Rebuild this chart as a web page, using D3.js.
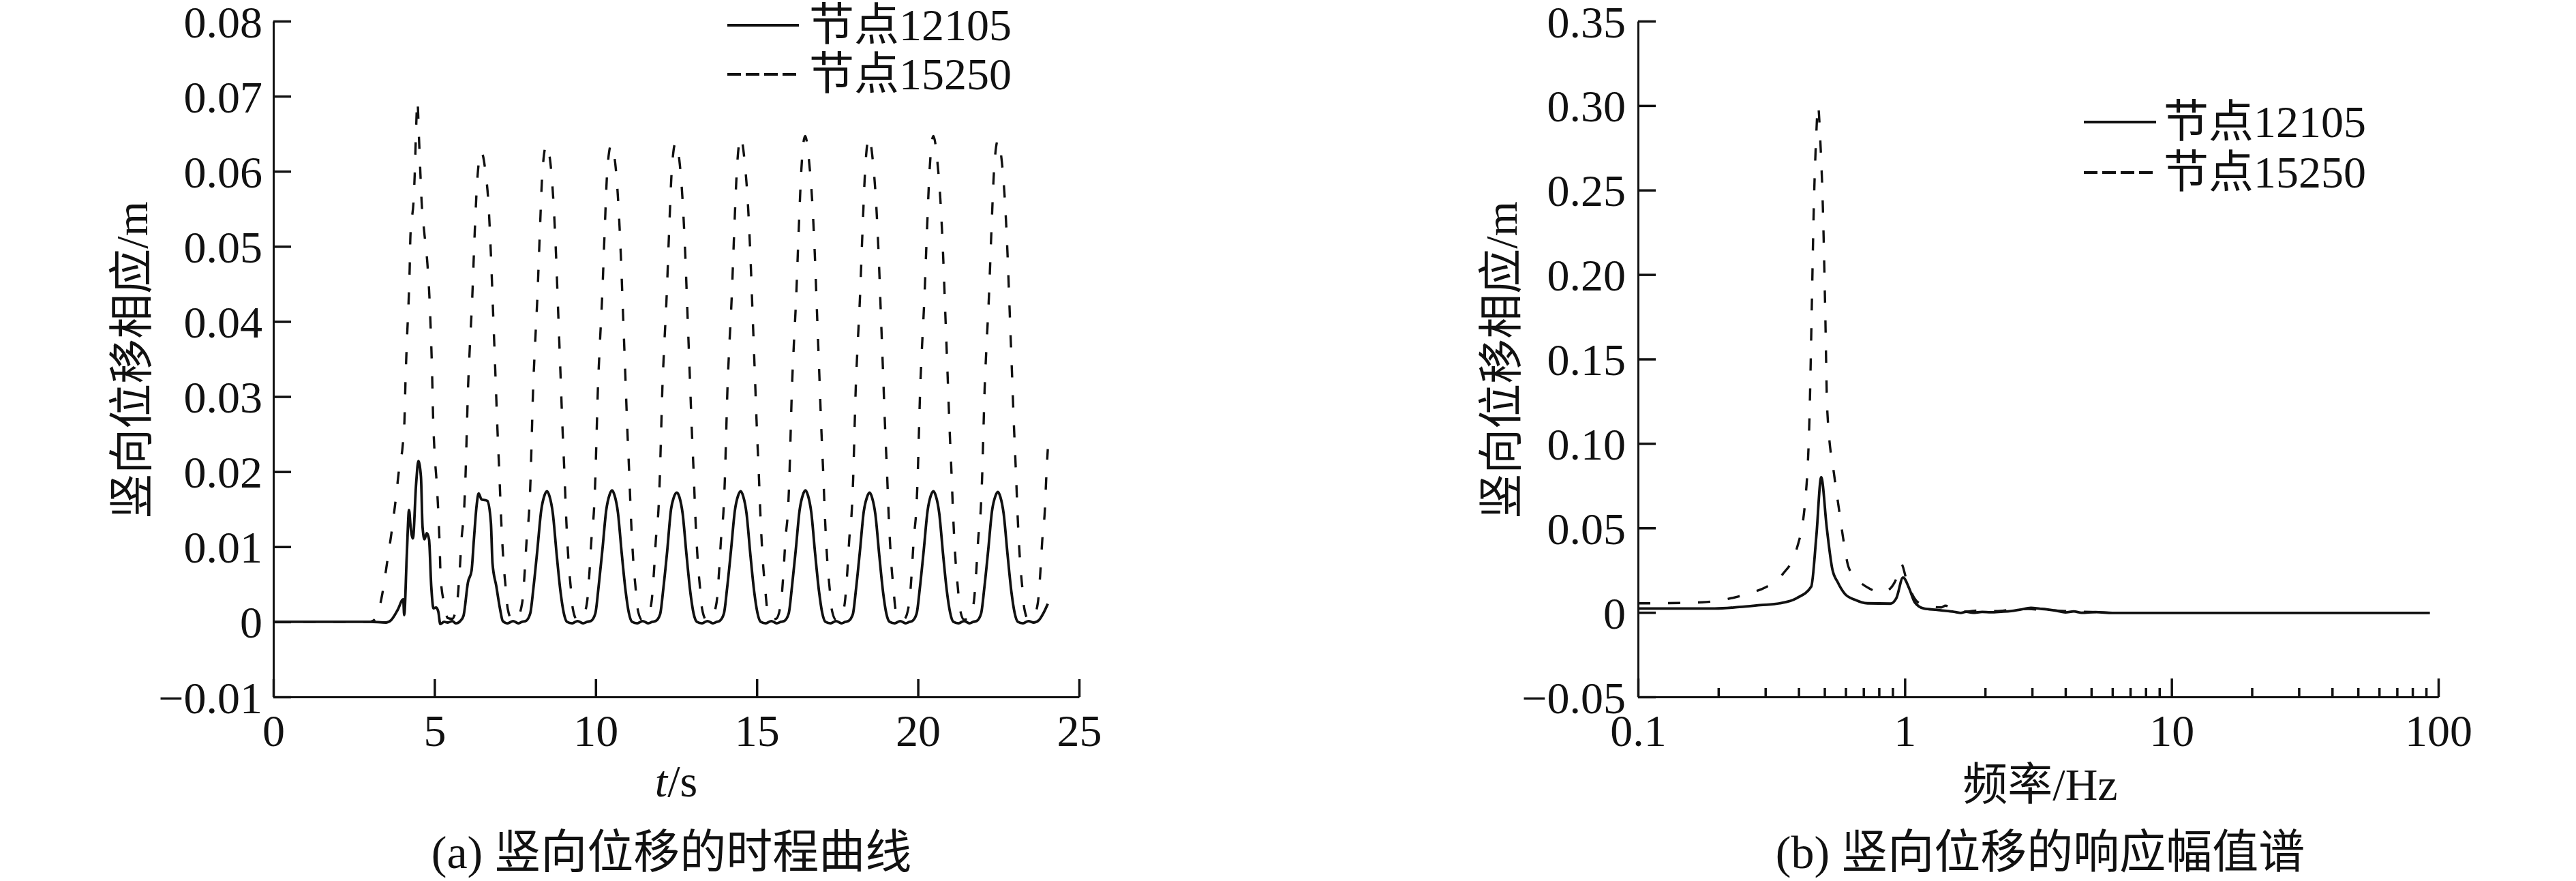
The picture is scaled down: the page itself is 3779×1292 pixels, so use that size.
<!DOCTYPE html>
<html>
<head>
<meta charset="utf-8">
<script src="https://cdn.jsdelivr.net/npm/d3@7/dist/d3.min.js"></script>
<style>
body { margin: 0; background: #fff; }
svg text { font-family: "Liberation Serif", "Noto Sans CJK SC", serif; fill: #111; }
</style>
</head>
<body>
<svg id="chart" width="3779" height="1292"></svg>
<script>
// ---- (a) time history, [t (s), displacement (m)] ----
var timeNode12105 = [
  [0,0],[1,0],[2,0],[3,0],[3.5,-0.0001],[3.65,0.0002],[3.86,0.0016],[4.03,0.003],[4.06,0.0009],
  [4.14,0.0088],[4.21,0.0149],[4.26,0.0126],[4.33,0.0111],[4.43,0.0184],[4.5,0.0214],[4.58,0.0193],
  [4.63,0.0126],[4.69,0.011],[4.76,0.0118],[4.83,0.011],[4.9,0.0047],[4.97,0.0018],[5.05,0.0019],
  [5.12,0.0013],[5.18,-0.0003],[5.3,0],[5.41,-0.0001],[5.55,0.0001],[5.66,-0.0002],[5.8,0.0001],
  [5.9,0.0008],[6.04,0.0053],[6.15,0.0068],[6.22,0.0108],[6.31,0.0156],[6.37,0.0171],[6.46,0.0163],
  [6.58,0.0162],[6.64,0.0161],[6.75,0.0132],[6.8,0.0078],[6.92,0.0047],[7.03,0.0018],[7.12,0.0001],
  [7.27,-0.0002],[7.44,0.0001],[7.6,-0.0002],[7.72,0],
  [7.83,0.0001],[7.97,0.0011],[8.07,0.0045],[8.19,0.0095],[8.31,0.0148],[8.41,0.0168],[8.49,0.0174],
  [8.57,0.0167],[8.67,0.0145],[8.79,0.009],[8.91,0.004],[9.01,0.0012],[9.11,0],[9.27,-0.0002],
  [9.44,0.0001],[9.61,-0.0002],[9.74,0],
  [9.85,0.0001],[9.99,0.0011],[10.09,0.0046],[10.21,0.0096],[10.33,0.0149],[10.43,0.0169],[10.51,0.0175],
  [10.59,0.0168],[10.69,0.0146],[10.81,0.0091],[10.93,0.0041],[11.03,0.0012],[11.13,0],[11.29,-0.0002],
  [11.46,0.0001],[11.63,-0.0002],[11.76,0],
  [11.86,0.0001],[12,0.001],[12.1,0.0044],[12.22,0.0094],[12.34,0.015],[12.42,0.0165],[12.52,0.0172],
  [12.6,0.0166],[12.7,0.0144],[12.82,0.0089],[12.94,0.0039],[13.04,0.0011],[13.14,0],[13.3,-0.0002],
  [13.47,0.0001],[13.64,-0.0002],[13.76,0],
  [13.84,0.0001],[13.98,0.0011],[14.08,0.0045],[14.2,0.0095],[14.32,0.0148],[14.42,0.0168],[14.5,0.0174],
  [14.58,0.0167],[14.68,0.0145],[14.8,0.009],[14.92,0.004],[15.02,0.0012],[15.12,0],[15.28,-0.0002],
  [15.45,0.0001],[15.62,-0.0002],[15.75,0],
  [15.85,0.0001],[15.99,0.0011],[16.09,0.0046],[16.21,0.0096],[16.33,0.0149],[16.43,0.0169],[16.51,0.0175],
  [16.59,0.0168],[16.69,0.0146],[16.81,0.0091],[16.93,0.0041],[17.03,0.0012],[17.13,0],[17.29,-0.0002],
  [17.46,0.0001],[17.63,-0.0002],[17.75,0],
  [17.84,0.0001],[17.98,0.001],[18.08,0.0044],[18.2,0.0094],[18.32,0.0147],[18.42,0.0166],[18.5,0.0172],
  [18.58,0.0165],[18.68,0.0143],[18.8,0.0089],[18.92,0.0039],[19.02,0.0011],[19.12,0],[19.28,-0.0002],
  [19.45,0.0001],[19.62,-0.0002],[19.74,0],
  [19.82,0.0001],[19.96,0.0011],[20.06,0.0045],[20.18,0.0095],[20.3,0.0148],[20.4,0.0168],[20.48,0.0174],
  [20.56,0.0167],[20.66,0.0145],[20.78,0.009],[20.9,0.004],[21,0.0012],[21.1,0],[21.26,-0.0002],
  [21.43,0.0001],[21.6,-0.0002],[21.72,0],
  [21.82,0.0001],[21.96,0.0011],[22.06,0.0045],[22.18,0.0095],[22.3,0.0148],[22.4,0.0167],[22.48,0.0173],
  [22.56,0.0166],[22.66,0.0144],[22.78,0.009],[22.9,0.004],[23,0.0012],[23.1,0],[23.26,-0.0002],
  [23.43,0.0001],[23.6,-0.0001],[23.75,0.0002],[23.9,0.0012],[24.03,0.0024]
];

var timeNode15250 = [
  [0,0],[1,0],[2,0],[3,0],[3.15,0.0003],[3.25,0.0012],[3.38,0.0037],[3.54,0.0082],[3.68,0.0123],
  [3.8,0.0164],[3.91,0.0206],[4.01,0.0233],[4.07,0.027],[4.1,0.032],[4.15,0.038],[4.2,0.043],
  [4.23,0.047],[4.25,0.051],[4.28,0.053],[4.35,0.056],[4.39,0.06],[4.42,0.0643],[4.47,0.0694],
  [4.52,0.0643],[4.56,0.06],[4.6,0.056],[4.68,0.052],[4.78,0.0477],[4.84,0.0435],[4.88,0.0393],
  [4.92,0.034],[4.96,0.0268],[5,0.0227],[5.07,0.0184],[5.12,0.0144],[5.16,0.0102],[5.19,0.006],
  [5.3,0.0024],[5.41,0.0005],[5.55,0.0004],
  [5.7,0.0025],[5.78,0.0067],[5.84,0.011],[5.92,0.015],[5.96,0.019],[6,0.025],[6.04,0.031],[6.09,0.036],
  [6.17,0.043],[6.25,0.052],[6.33,0.059],[6.45,0.0626],[6.58,0.06],[6.67,0.056],[6.75,0.049],[6.82,0.041],
  [6.89,0.033],[6.95,0.026],[7.01,0.02],[7.07,0.0135],[7.14,0.008],[7.21,0.0045],[7.27,0.0018],
  [7.4,0.0003],[7.55,0.0004],
  [7.72,0.0025],[7.8,0.0067],[7.86,0.011],[7.94,0.015],[7.98,0.019],[8.02,0.025],[8.06,0.031],[8.11,0.036],
  [8.19,0.043],[8.27,0.052],[8.35,0.06],[8.47,0.0635],[8.6,0.061],[8.69,0.056],[8.77,0.049],[8.84,0.041],
  [8.91,0.033],[8.97,0.026],[9.03,0.02],[9.09,0.0135],[9.16,0.008],[9.23,0.0045],[9.29,0.0018],
  [9.42,0.0003],[9.57,0.0004],
  [9.73,0.0025],[9.81,0.0067],[9.87,0.011],[9.95,0.015],[9.99,0.019],[10.03,0.025],[10.07,0.031],[10.12,0.036],
  [10.2,0.043],[10.28,0.052],[10.36,0.06],[10.48,0.0635],[10.61,0.061],[10.7,0.056],[10.78,0.049],[10.85,0.041],
  [10.92,0.033],[10.98,0.026],[11.04,0.02],[11.1,0.0135],[11.17,0.008],[11.24,0.0045],[11.3,0.0018],
  [11.43,0.0003],[11.58,0.0004],
  [11.73,0.0025],[11.81,0.0067],[11.87,0.011],[11.95,0.015],[11.99,0.019],[12.03,0.025],[12.07,0.031],[12.12,0.036],
  [12.2,0.043],[12.28,0.052],[12.36,0.06],[12.48,0.0638],[12.61,0.061],[12.7,0.056],[12.78,0.049],[12.85,0.041],
  [12.92,0.033],[12.98,0.026],[13.04,0.02],[13.1,0.0135],[13.17,0.008],[13.24,0.0045],[13.3,0.0018],
  [13.43,0.0003],[13.58,0.0004],
  [13.75,0.0025],[13.83,0.0067],[13.89,0.011],[13.97,0.015],[14.01,0.019],[14.05,0.025],[14.09,0.031],[14.14,0.036],
  [14.22,0.043],[14.3,0.052],[14.38,0.06],[14.5,0.0645],[14.63,0.061],[14.72,0.056],[14.8,0.049],[14.87,0.041],
  [14.94,0.033],[15,0.026],[15.06,0.02],[15.12,0.0135],[15.19,0.008],[15.26,0.0045],[15.32,0.0018],
  [15.45,0.0003],[15.6,0.0004],
  [15.75,0.0025],[15.83,0.0067],[15.89,0.011],[15.97,0.015],[16.01,0.019],[16.05,0.025],[16.09,0.031],[16.14,0.036],
  [16.22,0.043],[16.3,0.052],[16.38,0.06],[16.5,0.0647],[16.63,0.061],[16.72,0.056],[16.8,0.049],[16.87,0.041],
  [16.94,0.033],[17,0.026],[17.06,0.02],[17.12,0.0135],[17.19,0.008],[17.26,0.0045],[17.32,0.0018],
  [17.45,0.0003],[17.6,0.0004],
  [17.73,0.0025],[17.81,0.0067],[17.87,0.011],[17.95,0.015],[17.99,0.019],[18.03,0.025],[18.07,0.031],[18.12,0.036],
  [18.2,0.043],[18.28,0.052],[18.36,0.06],[18.48,0.0645],[18.61,0.061],[18.7,0.056],[18.78,0.049],[18.85,0.041],
  [18.92,0.033],[18.98,0.026],[19.04,0.02],[19.1,0.0135],[19.17,0.008],[19.24,0.0045],[19.3,0.0018],
  [19.43,0.0003],[19.58,0.0004],
  [19.73,0.0025],[19.81,0.0067],[19.87,0.011],[19.95,0.015],[19.99,0.019],[20.03,0.025],[20.07,0.031],[20.12,0.036],
  [20.2,0.043],[20.28,0.052],[20.36,0.06],[20.48,0.0647],[20.61,0.061],[20.7,0.056],[20.78,0.049],[20.85,0.041],
  [20.92,0.033],[20.98,0.026],[21.04,0.02],[21.1,0.0135],[21.17,0.008],[21.24,0.0045],[21.3,0.0018],
  [21.43,0.0003],[21.58,0.0004],
  [21.73,0.0025],[21.81,0.0067],[21.87,0.011],[21.95,0.015],[21.99,0.019],[22.03,0.025],[22.07,0.031],[22.12,0.036],
  [22.2,0.043],[22.28,0.052],[22.36,0.06],[22.48,0.0641],[22.61,0.061],[22.7,0.056],[22.78,0.049],[22.85,0.041],
  [22.92,0.033],[22.98,0.026],[23.04,0.02],[23.1,0.0135],[23.17,0.008],[23.24,0.0045],[23.3,0.0018],
  [23.43,0.0003],[23.58,0.0006],[23.72,0.0025],[23.8,0.0067],[23.86,0.011],[23.94,0.015],[23.98,0.019],[24.03,0.023]
];

// ---- (b) amplitude spectrum, [f (Hz), amplitude (m)] ----
var specNode12105 = [
  [0.1,0.0023],[0.15,0.0023],[0.194,0.0023],[0.24,0.0032],[0.287,0.0043],[0.34,0.0054],[0.394,0.0085],
  [0.446,0.0153],[0.466,0.045],[0.486,0.08],[0.51,0.05],[0.535,0.0256],[0.56,0.018],[0.596,0.011],
  [0.65,0.0075],[0.725,0.0054],[0.883,0.0052],[0.93,0.0085],[0.985,0.0207],[1.04,0.014],[1.09,0.006],
  [1.18,0.0023],[1.32,0.0015],[1.45,0.0008],[1.55,0.0002],[1.62,-0.0003],[1.7,0.0004],[1.8,-0.0002],
  [1.95,0.0003],[2.1,0.0001],[2.3,0.0004],[2.5,0.0008],[2.7,0.0016],[2.97,0.0027],[3.2,0.0022],
  [3.4,0.0018],[3.7,0.001],[4,0],[4.3,0.0006],[4.6,-0.0002],[5.2,0.0002],[6,-0.0003],[10,-0.0003],
  [50,-0.0003],[93,-0.0003]
];

var specNode15250 = [
  [0.1,0.0054],[0.13,0.0055],[0.174,0.006],[0.2,0.007],[0.236,0.0093],[0.27,0.012],[0.3,0.0148],
  [0.348,0.0225],[0.394,0.038],[0.424,0.067],[0.44,0.12],[0.448,0.18],[0.456,0.24],[0.465,0.28],
  [0.473,0.3],[0.482,0.28],[0.493,0.24],[0.503,0.18],[0.512,0.12],[0.545,0.08],[0.568,0.06],
  [0.59,0.042],[0.615,0.027],[0.66,0.02],[0.74,0.014],[0.82,0.0117],[0.88,0.014],[0.93,0.02],
  [0.97,0.0287],[1.02,0.018],[1.12,0.006],[1.25,0.0035],[1.37,0.003],[1.42,0.004],[1.55,0.001],
  [1.7,0.0005],[1.9,0.0012],[2.2,0.0008],[2.5,0.0015],[2.9,0.002],[3.3,0.0015],[3.8,0.001],
  [4.4,0.0005],[5,0.0003],[5.6,0]
];

// ---- ticks and labels ----
var timeTicks = [0, 5, 10, 15, 20, 25];
var dispTicks = [-0.01, 0, 0.01, 0.02, 0.03, 0.04, 0.05, 0.06, 0.07, 0.08];
var dispLabels = ["\u22120.01", "0", "0.01", "0.02", "0.03", "0.04", "0.05", "0.06", "0.07", "0.08"];
var freqMajor = [0.1, 1, 10, 100];
var freqLabels = ["0.1", "1", "10", "100"];
var freqMinor = [0.2, 0.3, 0.4, 0.5, 0.6, 0.7, 0.8, 0.9, 2, 3, 4, 5, 6, 7, 8, 9, 20, 30, 40, 50, 60, 70, 80, 90];
var ampTicks = [-0.05, 0, 0.05, 0.1, 0.15, 0.2, 0.25, 0.3, 0.35];
var ampLabels = ["\u22120.05", "0", "0.05", "0.10", "0.15", "0.20", "0.25", "0.30", "0.35"];
var seriesNames = ["节点12105", "节点15250"];

var FONT = '"Liberation Serif", "Noto Sans CJK SC", serif';
var svg = d3.select("#chart");
svg.append("rect").attr("width", 3779).attr("height", 1292).attr("fill", "#fff");

var xT = d3.scaleLinear().domain([0, 25]).range([401, 1583]);
var yT = d3.scaleLinear().domain([-0.01, 0.08]).range([1022, 31]);
var xF = d3.scaleLog().domain([0.1, 100]).range([2403, 3577]);
var yF = d3.scaleLinear().domain([-0.05, 0.35]).range([1022, 31]);

function styleAxis(g) {
  g.attr("font-family", FONT).attr("font-size", 66);
  g.select(".domain").attr("stroke", "#111").attr("stroke-width", 3);
  g.selectAll(".tick line").attr("stroke", "#111").attr("stroke-width", 3.5);
  g.selectAll(".tick text").attr("fill", "#111");
}

// left panel axes
svg.append("g").attr("transform", "translate(401,0)")
  .call(d3.axisLeft(yT).tickValues(dispTicks).tickFormat(function(d, i) { return dispLabels[i]; })
    .tickSizeInner(-26).tickSizeOuter(0).tickPadding(16))
  .call(styleAxis)
  .selectAll(".tick text").attr("dy", "0.35em");
svg.append("g").attr("transform", "translate(0,1022)")
  .call(d3.axisBottom(xT).tickValues(timeTicks).tickFormat(d3.format("d"))
    .tickSizeInner(-26).tickSizeOuter(0).tickPadding(25))
  .call(styleAxis);

// right panel axes
svg.append("g").attr("transform", "translate(2403,0)")
  .call(d3.axisLeft(yF).tickValues(ampTicks).tickFormat(function(d, i) { return ampLabels[i]; })
    .tickSizeInner(-26).tickSizeOuter(0).tickPadding(18))
  .call(styleAxis)
  .selectAll(".tick text").attr("dy", "0.35em");
svg.append("g").attr("transform", "translate(0,1022)")
  .call(d3.axisBottom(xF).tickValues(freqMinor).tickFormat("").tickSizeInner(-13).tickSizeOuter(0))
  .call(styleAxis);
svg.append("g").attr("transform", "translate(0,1022)")
  .call(d3.axisBottom(xF).tickValues(freqMajor).tickFormat(function(d, i) { return freqLabels[i]; })
    .tickSizeInner(-27).tickSizeOuter(0).tickPadding(25))
  .call(styleAxis);

// curves
var lineT = d3.line().x(function(d) { return xT(d[0]); }).y(function(d) { return yT(d[1]); }).curve(d3.curveMonotoneX);
var lineF = d3.line().x(function(d) { return xF(d[0]); }).y(function(d) { return yF(d[1]); }).curve(d3.curveMonotoneX);

function drawCurve(gen, data, dashed) {
  svg.append("path").datum(data)
    .attr("d", gen)
    .attr("fill", "none")
    .attr("stroke", "#111")
    .attr("stroke-width", dashed ? 3.4 : 3.8)
    .attr("stroke-linejoin", "round")
    .attr("stroke-dasharray", dashed ? "18,26" : null);
}
drawCurve(lineT, timeNode15250, true);
drawCurve(lineT, timeNode12105, false);
drawCurve(lineF, specNode15250, true);
drawCurve(lineF, specNode12105, false);

// legends
function legend(x0, x1, tx, rows) {
  rows.forEach(function(ry, i) {
    svg.append("line").attr("x1", x0).attr("x2", x1).attr("y1", ry).attr("y2", ry)
      .attr("stroke", "#111").attr("stroke-width", 4)
      .attr("stroke-dasharray", i === 1 ? "20,7" : null);
    svg.append("text").attr("x", tx).attr("y", ry).attr("dy", "0.33em")
      .attr("font-size", 66).text(seriesNames[i]);
  });
}
legend(1067, 1172, 1187, [37, 109]);
legend(3057, 3163, 3174, [179, 253]);

// axis titles
function yTitle(cx, cy) {
  svg.append("text").attr("transform", "translate(" + cx + "," + cy + ") rotate(-90)")
    .attr("text-anchor", "middle").attr("dominant-baseline", "central")
    .attr("font-size", 66).text("竖向位移相应/m");
}
yTitle(193, 528);
yTitle(2202, 528);

var tl = svg.append("text").attr("x", 992).attr("y", 1145).attr("text-anchor", "middle")
  .attr("dominant-baseline", "central").attr("font-size", 66);
tl.append("tspan").attr("font-style", "italic").text("t");
tl.append("tspan").text("/s");

svg.append("text").attr("x", 2993).attr("y", 1150).attr("text-anchor", "middle")
  .attr("dominant-baseline", "central").attr("font-size", 66).text("频率/Hz");

// captions
svg.append("text").attr("x", 985).attr("y", 1250).attr("text-anchor", "middle")
  .attr("dominant-baseline", "central").attr("font-size", 68).text("(a) 竖向位移的时程曲线");
svg.append("text").attr("x", 2993).attr("y", 1250).attr("text-anchor", "middle")
  .attr("dominant-baseline", "central").attr("font-size", 68).text("(b) 竖向位移的响应幅值谱");
</script>
</body>
</html>
